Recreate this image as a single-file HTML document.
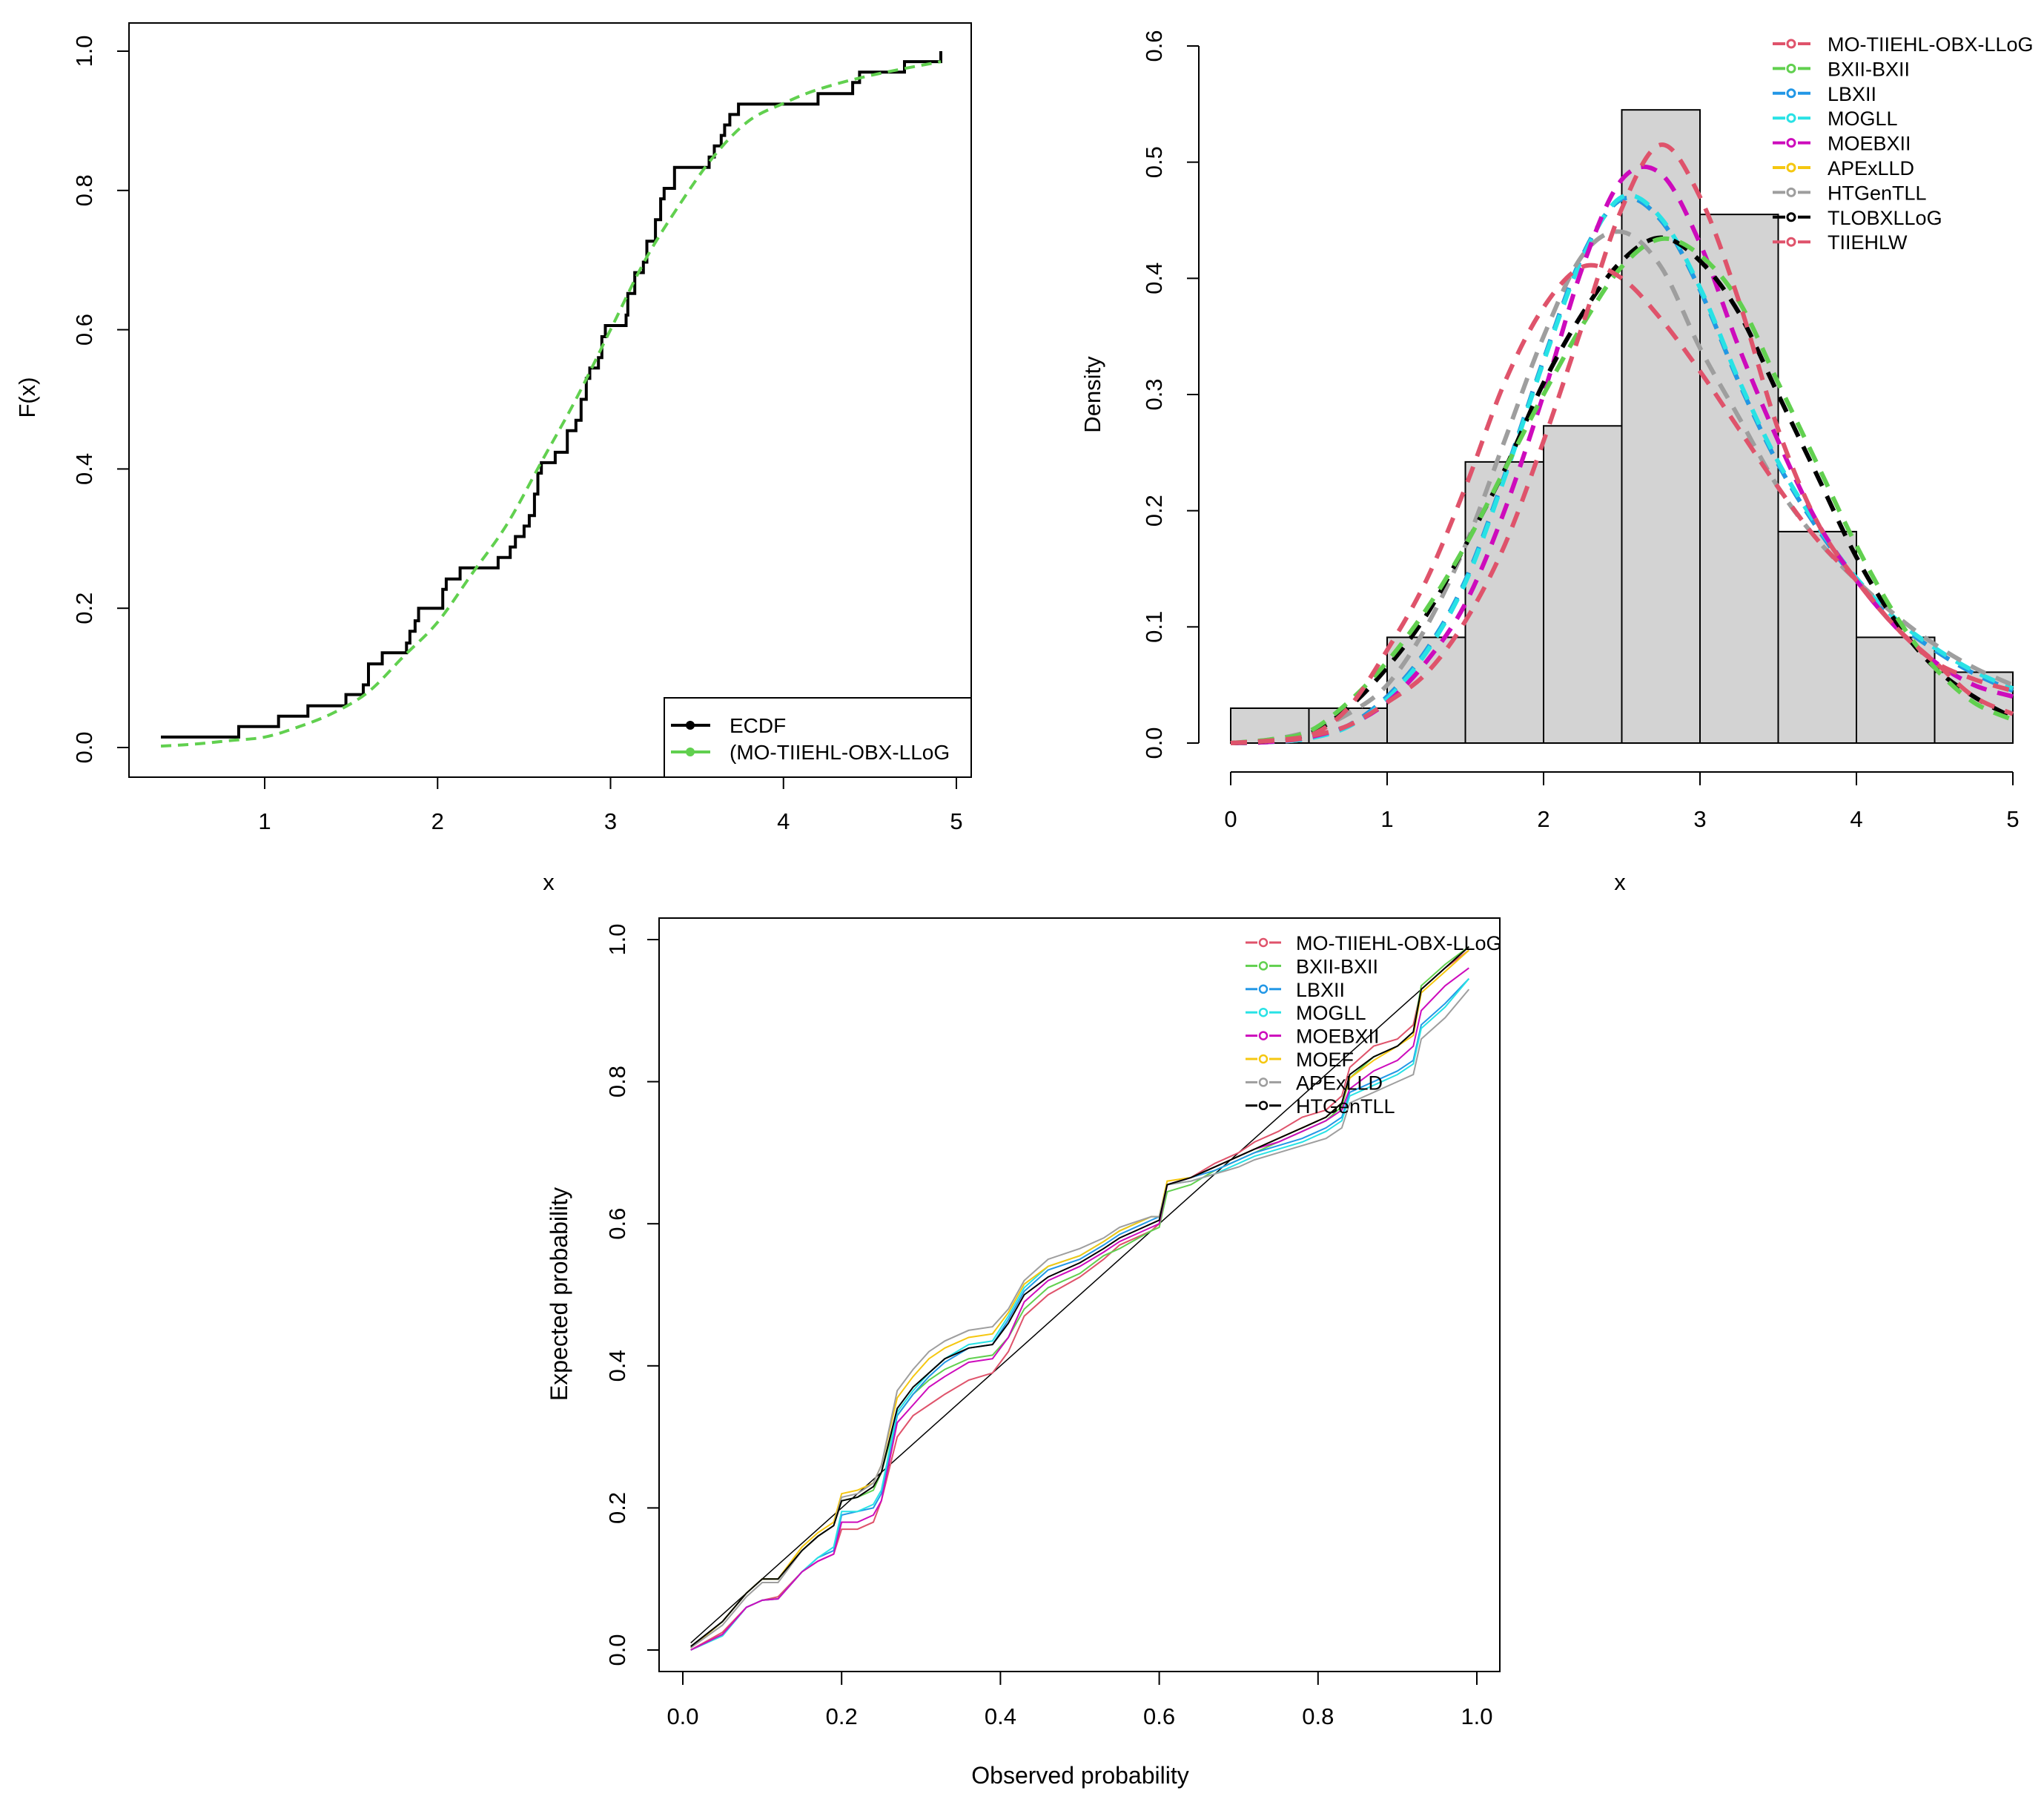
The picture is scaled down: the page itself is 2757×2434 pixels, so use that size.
<!DOCTYPE html>
<html><head><meta charset="utf-8"><style>
html,body{margin:0;padding:0;background:#fff;}
svg{display:block;font-family:"Liberation Sans",Arial,sans-serif;}
</style></head><body>
<svg id="chart" width="2757" height="2434" viewBox="0 0 2757 2434" xmlns="http://www.w3.org/2000/svg">
<rect width="2757" height="2434" fill="#fff"/>
<g id="p1"></g>
<g id="p2"></g>
<g id="p3"></g>
</svg>
<script>
// ---------- Panel 1 data ----------
const ecdfX = [0.4,0.85,1.08,1.25,1.47,1.57,1.6,1.68,1.82,1.84,1.87,1.89,2.03,2.05,2.13,2.35,2.42,2.45,2.5,2.53,2.56,2.58,2.6,2.68,2.75,2.8,2.83,2.86,2.88,2.93,2.95,2.97,3.09,3.1,3.14,3.19,3.21,3.26,3.29,3.31,3.37,3.57,3.6,3.64,3.66,3.69,3.74,4.2,4.4,4.44,4.7,4.91];
const ecdfY = [0.015,0.03,0.045,0.06,0.076,0.09,0.12,0.136,0.15,0.167,0.182,0.2,0.227,0.242,0.258,0.273,0.288,0.303,0.318,0.333,0.364,0.394,0.409,0.424,0.455,0.47,0.5,0.53,0.545,0.56,0.59,0.606,0.621,0.652,0.682,0.697,0.727,0.758,0.788,0.803,0.833,0.848,0.864,0.879,0.894,0.909,0.924,0.939,0.955,0.97,0.985,1.0];
const cdfX = [0.4,0.6,0.8,1.0,1.2,1.4,1.6,1.8,2.0,2.2,2.4,2.6,2.8,3.0,3.2,3.4,3.6,3.8,4.0,4.2,4.5,4.91];
const cdfY = [0.002,0.005,0.01,0.015,0.03,0.05,0.08,0.13,0.18,0.25,0.32,0.41,0.5,0.6,0.7,0.78,0.85,0.9,0.925,0.945,0.965,0.985];
const p1XTicks = [1,2,3,4,5];
const p1YTicks = ["0.0","0.2","0.4","0.6","0.8","1.0"];

// ---------- Panel 2 data ----------
const histEdges = [0,0.5,1,1.5,2,2.5,3,3.5,4,4.5,5];
const histDens = [0.03,0.03,0.091,0.242,0.273,0.545,0.455,0.182,0.091,0.061];
const densX = [0,0.25,0.5,0.75,1,1.25,1.5,1.75,2,2.25,2.5,2.75,3,3.25,3.5,3.75,4,4.25,4.5,4.75,5];
const dMOTIIEHL = [0,0.002,0.006,0.015,0.035,0.06,0.105,0.17,0.26,0.36,0.46,0.515,0.47,0.38,0.27,0.19,0.14,0.1,0.07,0.04,0.025];
const dBXII = [0,0.003,0.01,0.035,0.07,0.115,0.17,0.235,0.3,0.36,0.41,0.434,0.42,0.38,0.31,0.24,0.17,0.11,0.065,0.035,0.02];
const dLBXII = [0,0.001,0.004,0.015,0.04,0.08,0.14,0.23,0.33,0.42,0.468,0.45,0.39,0.31,0.24,0.185,0.14,0.105,0.08,0.06,0.045];
const dMOGLL = [0,0.001,0.004,0.014,0.038,0.078,0.138,0.228,0.328,0.418,0.47,0.452,0.392,0.312,0.242,0.187,0.142,0.107,0.082,0.062,0.047];
const dMOEBXII = [0,0.001,0.005,0.015,0.035,0.07,0.12,0.2,0.3,0.41,0.485,0.49,0.43,0.34,0.26,0.19,0.14,0.1,0.07,0.05,0.04];
const dAPExLLD = [0,0.001,0.004,0.015,0.04,0.08,0.14,0.23,0.33,0.42,0.468,0.45,0.39,0.31,0.24,0.185,0.14,0.105,0.08,0.06,0.045];
const dHTGenTLL = [0,0.003,0.01,0.025,0.05,0.1,0.17,0.26,0.35,0.42,0.44,0.41,0.34,0.28,0.22,0.175,0.14,0.11,0.085,0.065,0.05];
const dTLOBX = [0,0.002,0.008,0.03,0.065,0.11,0.17,0.235,0.31,0.37,0.415,0.435,0.415,0.37,0.3,0.23,0.16,0.105,0.065,0.04,0.022];
const dTIIEHLW = [0,0.002,0.006,0.03,0.08,0.14,0.22,0.31,0.375,0.41,0.4,0.365,0.32,0.27,0.22,0.175,0.14,0.1,0.07,0.055,0.045];
const p2XTicks = [0,1,2,3,4,5];
const p2YTicks = ["0.0","0.1","0.2","0.3","0.4","0.5","0.6"];
const densNames = ["MO-TIIEHL-OBX-LLoG","BXII-BXII","LBXII","MOGLL","MOEBXII","APExLLD","HTGenTLL","TLOBXLLoG","TIIEHLW"];

// ---------- Panel 3 data ----------
const pGrid = [.01,.05,.08,.10,.12,.15,.17,.19,.20,.22,.24,.25,.27,.29,.31,.33,.36,.39,.41,.43,.46,.50,.53,.55,.59,.60,.61,.64,.67,.70,.72,.75,.78,.81,.83,.84,.87,.90,.92,.93,.96,.99];
const ppRed = [.0,.025,.06,.07,.075,.11,.125,.135,.17,.17,.18,.21,.30,.33,.345,.36,.38,.39,.42,.47,.50,.525,.55,.57,.59,.60,.655,.665,.685,.70,.715,.73,.75,.76,.78,.82,.85,.86,.88,.93,.96,.985];
const ppGreen = [.003,.04,.08,.10,.10,.14,.16,.175,.21,.215,.225,.25,.33,.36,.38,.395,.41,.415,.44,.48,.51,.53,.555,.565,.59,.595,.645,.655,.675,.69,.70,.715,.73,.745,.765,.805,.835,.85,.87,.935,.965,.99];
const ppBlue = [.0,.02,.06,.07,.072,.11,.13,.14,.19,.195,.20,.22,.33,.36,.385,.405,.425,.43,.465,.505,.535,.55,.57,.585,.605,.61,.655,.665,.675,.69,.70,.71,.72,.735,.75,.785,.80,.815,.83,.88,.91,.945];
const ppCyan = [.0,.02,.06,.07,.072,.11,.13,.145,.195,.195,.205,.225,.335,.365,.39,.41,.43,.435,.47,.51,.54,.555,.575,.59,.61,.61,.655,.66,.67,.685,.695,.705,.715,.73,.745,.78,.795,.81,.825,.875,.905,.945];
const ppMagenta = [.0,.022,.06,.07,.072,.11,.125,.135,.18,.18,.19,.21,.32,.345,.37,.385,.405,.41,.44,.49,.52,.54,.56,.575,.595,.60,.655,.665,.68,.695,.705,.715,.73,.745,.76,.79,.815,.83,.85,.90,.935,.96];
const ppOrange = [.003,.04,.08,.10,.10,.145,.165,.18,.22,.225,.235,.26,.355,.385,.41,.425,.44,.445,.475,.515,.54,.555,.575,.59,.61,.61,.66,.665,.68,.695,.705,.72,.735,.75,.77,.805,.83,.85,.865,.925,.955,.985];
const ppGray = [.003,.035,.075,.095,.095,.14,.16,.175,.215,.22,.235,.26,.365,.395,.42,.435,.45,.455,.48,.52,.55,.565,.58,.595,.61,.61,.655,.66,.67,.68,.69,.70,.71,.72,.735,.77,.785,.80,.81,.86,.89,.93];
const ppBlack = [.005,.04,.08,.10,.10,.14,.16,.175,.21,.215,.23,.25,.34,.37,.39,.41,.425,.43,.46,.50,.525,.545,.565,.58,.60,.605,.655,.665,.68,.695,.705,.72,.735,.75,.77,.81,.835,.85,.87,.93,.96,.99];
const ppNames = ["MO-TIIEHL-OBX-LLoG","BXII-BXII","LBXII","MOGLL","MOEBXII","MOEF","APExLLD","HTGenTLL"];
const p3Ticks = ["0.0","0.2","0.4","0.6","0.8","1.0"];

const NS="http://www.w3.org/2000/svg";
function el(tag, attrs, parent){const e=document.createElementNS(NS,tag);for(const k in attrs)e.setAttribute(k,attrs[k]);parent.appendChild(e);return e;}
function txt(s,attrs,parent){const t=el('text',attrs,parent);t.textContent=s;return t;}
function poly(xs,ys,sx,sy){return xs.map((x,i)=>(i?'L':'M')+sx(x).toFixed(1)+','+sy(ys[i]).toFixed(1)).join('');}
function smooth(xs,ys,sx,sy){
  const P=xs.map((x,i)=>[sx(x),sy(ys[i])]);let d='M'+P[0][0]+','+P[0][1];
  for(let i=0;i<P.length-1;i++){const p0=P[Math.max(0,i-1)],p1=P[i],p2=P[i+1],p3=P[Math.min(P.length-1,i+2)];
    d+='C'+(p1[0]+(p2[0]-p0[0])/6).toFixed(1)+','+(p1[1]+(p2[1]-p0[1])/6).toFixed(1)+' '+(p2[0]-(p3[0]-p1[0])/6).toFixed(1)+','+(p2[1]-(p3[1]-p1[1])/6).toFixed(1)+' '+p2[0].toFixed(1)+','+p2[1].toFixed(1);}
  return d;}
const FS=31;

// ================= Panel 1 =================
(function(){
const g=document.getElementById('p1');
const sx=x=>357+(x-1)*(1290-357)/4, sy=y=>1008-y*(1008-69);
let r=el('rect',{x:174,y:31,width:1136,height:1017,fill:'none',stroke:'#000','stroke-width':2},g);

p1XTicks.forEach(v=>{
  let l=el('line',{x1:sx(v),x2:sx(v),y1:1048,y2:1064,stroke:'#000','stroke-width':2},g);
  
  let t=txt(String(v),{x:sx(v),y:1118,'font-size':FS,'text-anchor':'middle'},g);
  
});
p1YTicks.forEach(s=>{const v=+s;
  let l=el('line',{x1:158,x2:174,y1:sy(v),y2:sy(v),stroke:'#000','stroke-width':2},g);
  
  let t=txt(s,{x:0,y:0,'font-size':FS,'text-anchor':'middle',transform:`translate(124,${sy(v)}) rotate(-90)`},g);
  
});
let xl=txt('x',{x:740,y:1200,'font-size':FS,'text-anchor':'middle'},g);

let yl=txt('F(x)',{x:0,y:0,'font-size':FS,'text-anchor':'middle',transform:'translate(47,536) rotate(-90)'},g);

// ecdf steps
let d='M'+sx(ecdfX[0])+','+sy(ecdfY[0]);
for(let i=1;i<ecdfX.length;i++){d+='L'+sx(ecdfX[i]).toFixed(1)+','+sy(ecdfY[i-1]).toFixed(1)+'L'+sx(ecdfX[i]).toFixed(1)+','+sy(ecdfY[i]).toFixed(1);}
d+='L'+sx(ecdfX[ecdfX.length-1])+','+sy(ecdfY[ecdfY.length-1]-0.015);
let e=el('path',{d:d,fill:'none',stroke:'#000','stroke-width':4},g);

let c=el('path',{d:smooth(cdfX,cdfY,sx,sy),fill:'none',stroke:'#61D04F','stroke-width':4,'stroke-dasharray':'14 9'},g);

// legend
let lg=el('g',{},g);
el('rect',{x:896,y:941,width:414,height:107,fill:'#fff',stroke:'#000','stroke-width':2},lg);
[['ECDF','#000',978],['(MO-TIIEHL-OBX-LLoG','#61D04F',1014]].forEach(([n,col,y])=>{
  let it=el('g',{},lg);
  el('line',{x1:905,x2:958,y1:y,y2:y,stroke:col,'stroke-width':4},it);
  el('circle',{cx:931,cy:y,r:6,fill:col},it);
  txt(n,{x:984,y:y+10,'font-size':28},it);
});
})();

// ================= Panel 2 =================
(function(){
const g=document.getElementById('p2');
const sx=x=>1660+x*(2715-1660)/5, sy=y=>1002-y*(1002-62)/0.6;
histDens.forEach((v,i)=>{
  let b=el('rect',{x:sx(histEdges[i]),y:sy(v),width:sx(histEdges[i+1])-sx(histEdges[i]),height:sy(0)-sy(v),fill:'#D3D3D3',stroke:'#000','stroke-width':2},g);
  
});
let ya=el('line',{x1:1617,x2:1617,y1:sy(0),y2:sy(0.6),stroke:'#000','stroke-width':2},g);

p2YTicks.forEach(s=>{const v=+s;
  let l=el('line',{x1:1601,x2:1617,y1:sy(v),y2:sy(v),stroke:'#000','stroke-width':2},g);
  
  let t=txt(s,{x:0,y:0,'font-size':FS,'text-anchor':'middle',transform:`translate(1567,${sy(v)}) rotate(-90)`},g);
  
});
let xa=el('line',{x1:sx(0),x2:sx(5),y1:1041,y2:1041,stroke:'#000','stroke-width':2},g);

p2XTicks.forEach(v=>{
  let l=el('line',{x1:sx(v),x2:sx(v),y1:1041,y2:1059,stroke:'#000','stroke-width':2},g);
  
  let t=txt(String(v),{x:sx(v),y:1115,'font-size':FS,'text-anchor':'middle'},g);
  
});
let xl=txt('x',{x:2185,y:1200,'font-size':FS,'text-anchor':'middle'},g);

let yl=txt('Density',{x:0,y:0,'font-size':FS,'text-anchor':'middle',transform:'translate(1484,532) rotate(-90)'},g);

const series=[dMOTIIEHL,dBXII,dLBXII,dMOGLL,dMOEBXII,dAPExLLD,dHTGenTLL,dTLOBX,dTIIEHLW];
const cols=['#DF536B','#61D04F','#2297E6','#28E2E5','#CD0BBC','#F5C710','#9E9E9E','#000000','#DF536B'];
const order=[5,2,3,6,4,7,1,8,0];
order.forEach(i=>{
  let p=el('path',{d:smooth(densX,series[i],sx,sy),fill:'none',stroke:cols[i],'stroke-width':6,'stroke-dasharray':'22 15'},g);
  
});
let lg=el('g',{},g);
densNames.forEach((n,i)=>{const y=59+i*33.4;
  let it=el('g',{},lg);
  el('line',{x1:2391,x2:2408,y1:y,y2:y,stroke:cols[i],'stroke-width':4},it);
  el('line',{x1:2425,x2:2442,y1:y,y2:y,stroke:cols[i],'stroke-width':4},it);
  el('circle',{cx:2416,cy:y,r:5,fill:'none',stroke:cols[i],'stroke-width':3},it);
  txt(n,{x:2465,y:y+10,'font-size':27},it);
});
})();

// ================= Panel 3 =================
(function(){
const g=document.getElementById('p3');
const sx=p=>921+p*1071, sy=y=>2225-y*958;
let r=el('rect',{x:889,y:1238,width:1134,height:1016,fill:'none',stroke:'#000','stroke-width':2},g);

p3Ticks.forEach(s=>{const v=+s;
  let l=el('line',{x1:sx(v),x2:sx(v),y1:2254,y2:2272,stroke:'#000','stroke-width':2},g);
  
  let t=txt(s,{x:sx(v),y:2325,'font-size':FS,'text-anchor':'middle'},g);
  
  let l2=el('line',{x1:873,x2:889,y1:sy(v),y2:sy(v),stroke:'#000','stroke-width':2},g);
  
  let t2=txt(s,{x:0,y:0,'font-size':FS,'text-anchor':'middle',transform:`translate(843,${sy(v)}) rotate(-90)`},g);
  
});
let xl=txt('Observed probability',{x:1457,y:2405,'font-size':32,'text-anchor':'middle'},g);

let yl=txt('Expected probability',{x:0,y:0,'font-size':32,'text-anchor':'middle',transform:'translate(765,1745) rotate(-90)'},g);

let dg=el('line',{x1:sx(0.01),y1:sy(0.01),x2:sx(0.99),y2:sy(0.99),stroke:'#000','stroke-width':1.5},g);

const series=[ppRed,ppGreen,ppBlue,ppCyan,ppMagenta,ppOrange,ppGray,ppBlack];
const cols=['#DF536B','#61D04F','#2297E6','#28E2E5','#CD0BBC','#F5C710','#9E9E9E','#000000'];
series.forEach((s,i)=>{
  let p=el('path',{d:poly(pGrid,s,sx,sy),fill:'none',stroke:cols[i],'stroke-width':2},g);
  
});
let lg=el('g',{},g);
ppNames.forEach((n,i)=>{const y=1271+i*31.4;
  let it=el('g',{},lg);
  el('line',{x1:1680,x2:1696,y1:y,y2:y,stroke:cols[i],'stroke-width':3},it);
  el('line',{x1:1712,x2:1728,y1:y,y2:y,stroke:cols[i],'stroke-width':3},it);
  el('circle',{cx:1704,cy:y,r:5,fill:'none',stroke:cols[i],'stroke-width':2.5},it);
  txt(n,{x:1748,y:y+10,'font-size':27},it);
});
})();
</script>
</body></html>
